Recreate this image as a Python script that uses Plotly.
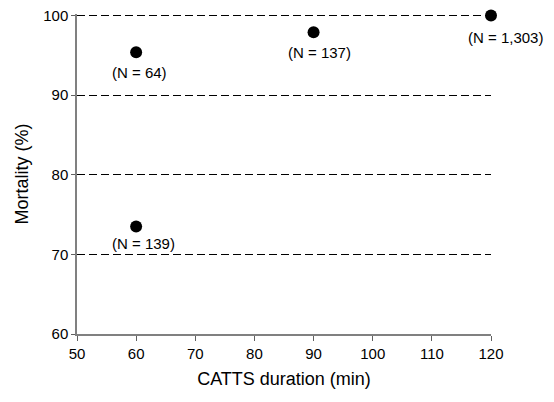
import plotly.graph_objects as go

duration = [60, 60, 90, 120]
mortality = [95.4, 73.5, 97.9, 100.0]
n_labels = ["(N = 64)", "(N = 139)", "(N = 137)", "(N = 1,303)"]
label_xshift = [3, 7, 6, 14]
label_yshift = [-20, -17, -20, -22]

fig = go.Figure()
fig.add_trace(go.Scatter(
    x=duration, y=mortality, mode="markers",
    marker=dict(color="black", size=12),
    cliponaxis=False, showlegend=False, hoverinfo="skip"))

for x, y, t, xs, ys in zip(duration, mortality, n_labels, label_xshift, label_yshift):
    fig.add_annotation(x=x, y=y, text=t, showarrow=False, xshift=xs, yshift=ys,
                       font=dict(family="Liberation Sans, Arial", size=15, color="black"))

tick_font = dict(family="Liberation Sans, Arial", size=15, color="black")
title_font = dict(family="Liberation Sans, Arial", size=18, color="black")
fig.update_layout(
    width=538, height=386,
    margin=dict(l=69, r=55, t=6, b=60),
    plot_bgcolor="white", paper_bgcolor="white",
    xaxis=dict(range=[50, 120], tickvals=[50, 60, 70, 80, 90, 100, 110, 120],
               automargin=False, tickfont=tick_font,
               showgrid=False, zeroline=False,
               showline=True, linecolor="#808080", linewidth=1.5,
               ticks="outside", ticklen=5, tickcolor="#606060", tickwidth=1,
               ticklabeloverflow="allow",
               title=dict(text="CATTS duration (min)", font=title_font, standoff=12)),
    yaxis=dict(range=[60, 100.2], tickvals=[60, 70, 80, 90, 100],
               automargin=False, tickfont=tick_font,
               showgrid=True, gridcolor="black", gridwidth=1, griddash="8px,4px",
               zeroline=False,
               showline=True, linecolor="#808080", linewidth=1.5,
               ticks="outside", ticklen=4, tickcolor="#606060", tickwidth=1,
               ticklabeloverflow="allow",
               title=dict(text="Mortality (%)", font=title_font, standoff=10)),
)
fig.write_html("out.html")
